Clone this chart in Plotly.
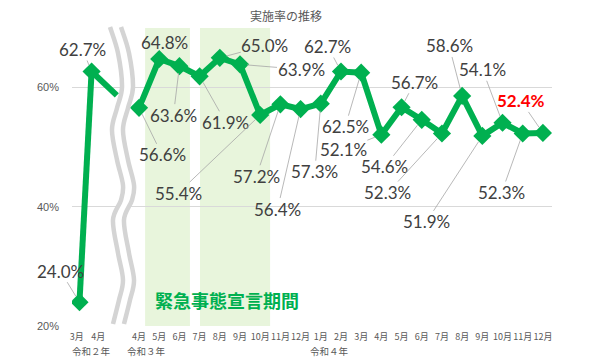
import plotly.graph_objects as go

# ---------------- data ----------------
title_text = "実施率の推移"
months_2020 = ["3月", "4月"]
values_2020 = [24.0, 62.7]
months_main = ["4月", "5月", "6月", "7月", "8月", "9月", "10月", "11月", "12月",
               "1月", "2月", "3月", "4月", "5月", "6月", "7月", "8月", "9月",
               "10月", "11月", "12月"]
values_main = [56.6, 64.8, 63.6, 61.9, 65.0, 63.9, 55.4, 57.2, 56.4,
               57.3, 62.7, 62.5, 52.1, 56.7, 54.6, 52.3, 58.6, 51.9,
               54.1, 52.3, 52.4]
y_ticks = [20, 40, 60]
y_tick_labels = ["20%", "40%", "60%"]
era_labels = ["令和２年", "令和３年", "令和４年"]
band_label = "緊急事態宣言期間"

# ---------------- layout constants ----------------
GREEN = "#00B050"
PAGE_OFF = 8            # browser body margin
L, T, W, H = 72, 28, 480, 298   # plot area in screen pixels
X_RANGE = [-3.32, 20.45]
Y_RANGE = [20, 70]
pos_2020 = [-2.95, -2.35]
tick_pos_2020 = [-3.08, -2.02]
pos_main = list(range(len(values_main)))
bands = [(0.3, 2.52), (3.02, 6.49)]
stub_end = (-1.1, 58.7)
era_pos = [-2.35, 0.35, 9.45]

# label offsets (pixels, text centre relative to point)
off_2020 = [(-19, -31), (-9, -22)]
off_main = [(23, 47), (5, -16), (-6, 49), (26, 46), (45, -12), (61, 5),
            (-82, 78), (-24, 72), (-23, 100), (-6, 68), (-13, -25), (-16, 54),
            (-38, 15), (13, -25), (-37, 47), (-54, 59), (-13, -50), (-56, 86),
            (-20, -53), (-21, 59), (-22, -32)]

def px_to_paper(px, py):
    return ((px - L) / W, (T + H - py) / H)

def cr_path(pts):
    d = f"M {pts[0][0]:.4f},{pts[0][1]:.4f}"
    n = len(pts)
    for i in range(n - 1):
        p0 = pts[i - 1] if i > 0 else pts[i]
        p1 = pts[i]
        p2 = pts[i + 1]
        p3 = pts[i + 2] if i + 2 < n else pts[i + 1]
        c1 = (p1[0] + (p2[0] - p0[0]) / 6, p1[1] + (p2[1] - p0[1]) / 6)
        c2 = (p2[0] - (p3[0] - p1[0]) / 6, p2[1] - (p3[1] - p1[1]) / 6)
        d += (f" C {c1[0]:.4f},{c1[1]:.4f} {c2[0]:.4f},{c2[1]:.4f}"
              f" {p2[0]:.4f},{p2[1]:.4f}")
    return d

wave_left_px = [(110, 27), (118, 53), (122, 87), (117, 108), (112, 130),
                (117, 160), (123, 185), (121, 200), (113, 220), (118, 253),
                (123, 280), (119, 300), (113, 324)]
gap = 11

fig = go.Figure()

fig.add_trace(go.Scatter(
    x=pos_main, y=values_main, mode="lines+markers",
    line=dict(color=GREEN, width=6),
    marker=dict(symbol="diamond", size=14, color=GREEN),
    hoverinfo="skip", showlegend=False))
fig.add_trace(go.Scatter(
    x=pos_2020, y=values_2020, mode="lines+markers",
    line=dict(color=GREEN, width=6),
    marker=dict(symbol="diamond", size=14, color=GREEN),
    hoverinfo="skip", showlegend=False))
fig.add_trace(go.Scatter(
    x=[pos_2020[-1], stub_end[0]], y=[values_2020[-1], stub_end[1]],
    mode="lines", line=dict(color=GREEN, width=6),
    hoverinfo="skip", showlegend=False))

shapes = []
for x0, x1 in bands:
    shapes.append(dict(type="rect", xref="x", yref="paper", x0=x0, x1=x1,
                       y0=0, y1=1, fillcolor="#E8F5DC", line=dict(width=0),
                       layer="below"))

centre = [px_to_paper(x + gap / 2, y) for x, y in wave_left_px]
left = [px_to_paper(x, y) for x, y in wave_left_px]
right = [px_to_paper(x + gap, y) for x, y in wave_left_px]
shapes.append(dict(type="path", xref="paper", yref="paper", path=cr_path(centre),
                   line=dict(color="white", width=12), layer="above"))
for pts in (left, right):
    shapes.append(dict(type="path", xref="paper", yref="paper", path=cr_path(pts),
                       line=dict(color="#D4D4D4", width=4.5), layer="above"))

annotations = []
label_font = dict(family="Lato, Liberation Sans, sans-serif", size=17, color="#404040")

def add_label(x, y, v, off, red=False):
    txt = f"{v:.1f}%"
    font = dict(label_font)
    if red:
        txt = f"<b>{txt}</b>"
        font["color"] = "#FF0000"
    annotations.append(dict(
        x=x, y=y, xref="x", yref="y", text=txt, font=font,
        showarrow=True, ax=off[0], ay=off[1], arrowhead=0, arrowwidth=0.8,
        arrowcolor="#A6A6A6", standoff=7, borderpad=0))

for x, v, off in zip(pos_2020, values_2020, off_2020):
    add_label(x, v, v, off)
for i, (x, v, off) in enumerate(zip(pos_main, values_main, off_main)):
    add_label(x, v, v, off, red=(i == len(values_main) - 1))

tx, ty = px_to_paper(286, 15)
annotations.append(dict(x=tx, y=ty, xref="paper", yref="paper", text=title_text,
                        showarrow=False, xanchor="center", yanchor="middle",
                        font=dict(family="Noto Sans CJK JP", size=12, color="#595959")))
annotations.append(dict(x=4.36, y=px_to_paper(0, 300)[1], xref="x", yref="paper",
                        text=f"<b>{band_label}</b>", showarrow=False,
                        xanchor="center", yanchor="middle",
                        font=dict(family="Noto Sans CJK JP", size=18, color=GREEN)))
era_y = px_to_paper(0, 351)[1]
for lab, xpos in zip(era_labels, era_pos):
    annotations.append(dict(x=xpos, y=era_y, xref="x", yref="paper", text=lab,
                            showarrow=False, xanchor="center", yanchor="middle",
                            font=dict(family="Noto Sans CJK JP", size=9.5, color="#595959")))

ml = L - PAGE_OFF
mt = T - PAGE_OFF
fig.update_layout(
    width=600, height=364,
    margin=dict(l=ml, r=600 - ml - W, t=mt, b=364 - mt - H, autoexpand=False),
    paper_bgcolor="white", plot_bgcolor="white",
    showlegend=False,
    shapes=shapes, annotations=annotations,
    xaxis=dict(range=X_RANGE, showgrid=False, zeroline=False, showline=False,
               tickmode="array", tickvals=tick_pos_2020 + pos_main,
               ticktext=months_2020 + months_main, ticks="", tickangle=0,
               automargin=False, ticklabelstandoff=4,
               tickfont=dict(family="Noto Sans CJK JP", size=9, color="#595959")),
    yaxis=dict(range=Y_RANGE, tickmode="array", tickvals=y_ticks,
               ticktext=y_tick_labels, showgrid=True, gridcolor="#D9D9D9",
               gridwidth=1, zeroline=False, showline=False, ticks="",
               ticklabelstandoff=12, automargin=False,
               tickfont=dict(family="Liberation Sans", size=11, color="#595959")),
)

fig.write_html("out.html")
